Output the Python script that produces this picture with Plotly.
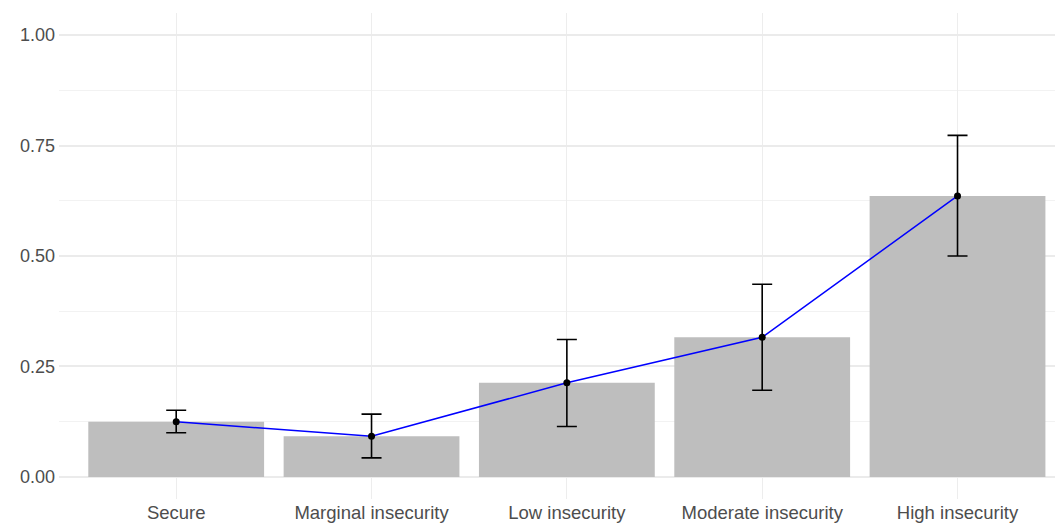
import plotly.graph_objects as go

categories = ["Secure", "Marginal insecurity", "Low insecurity", "Moderate insecurity", "High insecurity"]
means = [0.125, 0.092, 0.213, 0.316, 0.636]
lower = [0.100, 0.043, 0.114, 0.196, 0.500]
upper = [0.151, 0.142, 0.311, 0.436, 0.773]
y_ticks = [0, 0.25, 0.5, 0.75, 1.0]
y_ticktext = ["0.00", "0.25", "0.50", "0.75", "1.00"]

err_plus = [u - m for u, m in zip(upper, means)]
err_minus = [m - l for m, l in zip(means, lower)]

fig = go.Figure()
fig.add_trace(go.Bar(x=categories, y=means, marker=dict(color="#BEBEBE", line=dict(width=0)),
                     width=0.9, showlegend=False))
fig.add_trace(go.Scatter(x=categories, y=means, mode="lines",
                         line=dict(color="#0000FF", width=1.5), showlegend=False))
fig.add_trace(go.Scatter(x=categories, y=means, mode="markers",
                         marker=dict(color="black", size=7),
                         error_y=dict(type="data", symmetric=False, array=err_plus, arrayminus=err_minus,
                                      color="black", thickness=1.6, width=10),
                         showlegend=False))

fig.update_layout(
    width=1055, height=518,
    margin=dict(l=51, r=0, t=5, b=27),
    plot_bgcolor="white", paper_bgcolor="white",
    font=dict(family="Liberation Sans, Arial, sans-serif", size=18, color="#4D4D4D"),
    bargap=0.1,
)
fig.update_xaxes(range=[-0.6, 4.54], showgrid=True, gridcolor="#EDEDED", gridwidth=1.3,
                 zeroline=False, showline=False, ticks="", tickfont=dict(size=18.5, color="#4D4D4D"))
fig.update_yaxes(range=[-0.05, 1.05], tickvals=y_ticks, ticktext=y_ticktext,
                 showgrid=True, gridcolor="#EBEBEB", gridwidth=1.5, zeroline=False, showline=False,
                 ticks="", tickfont=dict(size=18, color="#4D4D4D"), ticklabelstandoff=3,
                 minor=dict(tickvals=[0.125, 0.375, 0.625, 0.875], showgrid=True,
                            gridcolor="#F2F2F2", gridwidth=1))

fig.write_html("out.html")
